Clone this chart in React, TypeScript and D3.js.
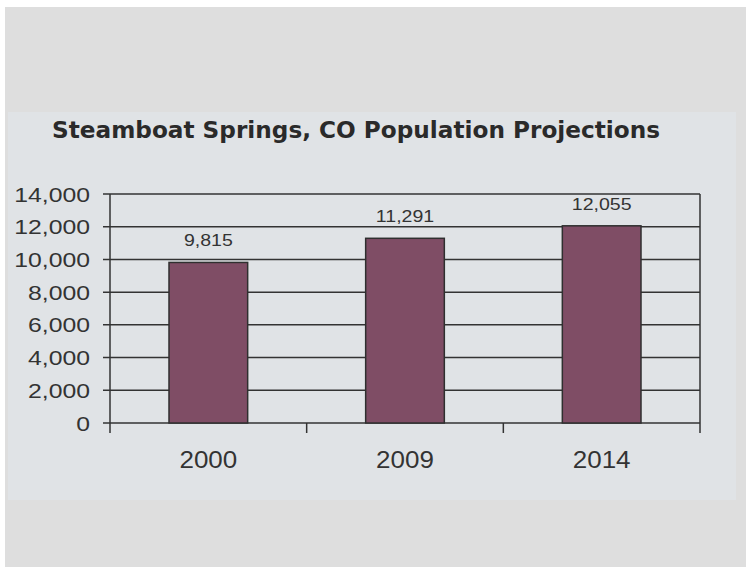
import React from "react";
import * as d3 from "d3";

const categories = ["2000", "2009", "2014"];
const population = [9815, 11291, 12055];
const yTicks = [0, 2000, 4000, 6000, 8000, 10000, 12000, 14000];
const title = "Steamboat Springs, CO Population Projections";

export default function App() {
  const W = 751, H = 567;
  const left = 110, right = 700, top = 194, bottom = 423;
  const y = d3.scaleLinear().domain([0, 14000]).range([bottom, top]);
  const x = d3.scaleBand().domain(categories).range([left, right]).paddingInner(0).paddingOuter(0);
  const barW = x.bandwidth() * 0.4;
  const fmt = d3.format(",");
  const ink = "#333333";
  const font = "'Liberation Sans', Arial, sans-serif";

  return (
    <svg width={W} height={H} style={{ position: "absolute", left: 0, top: 0 }}>
      <rect x={0} y={0} width={W} height={H} fill="#ffffff" />
      <rect x={5} y={7} width={741} height={H - 7} fill="#dedede" />
      <rect x={8} y={112} width={728} height={388} fill="#e0e3e6" />
      <text
        x={52}
        y={138}
        fontFamily="'DejaVu Sans', Verdana, sans-serif"
        fontWeight="bold"
        fontSize={23}
        fill="#2a2a2a"
        textLength={608}
        lengthAdjust="spacingAndGlyphs"
      >
        {title}
      </text>
      {yTicks.map((t) => (
        <g key={t}>
          <line x1={103} x2={right} y1={y(t)} y2={y(t)} stroke={ink} strokeWidth={1.5} />
          <text
            transform={`translate(90,${y(t) + 7.5}) scale(1.18,1)`}
            textAnchor="end"
            fontFamily={font}
            fontSize={21}
            fill="#333"
          >
            {fmt(t)}
          </text>
        </g>
      ))}
      <line x1={left} x2={left} y1={top} y2={bottom + 10} stroke={ink} strokeWidth={1.5} />
      <line x1={right} x2={right} y1={top} y2={bottom + 10} stroke={ink} strokeWidth={1.5} />
      {categories.slice(1).map((c) => (
        <line key={c} x1={x(c)!} x2={x(c)!} y1={bottom} y2={bottom + 10} stroke={ink} strokeWidth={1.5} />
      ))}
      {categories.map((c, i) => {
        const cx = x(c)! + x.bandwidth() / 2;
        return (
          <g key={c}>
            <rect
              x={cx - barW / 2}
              y={y(population[i])}
              width={barW}
              height={bottom - y(population[i])}
              fill="#7f4d65"
              stroke="#2f2f2f"
              strokeWidth={1.5}
            />
            <text
              transform={`translate(${cx},${y(population[i]) - 16}) scale(1.15,1)`}
              textAnchor="middle"
              fontFamily={font}
              fontSize={17}
              fill="#333"
            >
              {fmt(population[i])}
            </text>
            <text
              transform={`translate(${cx},${468}) scale(1.13,1)`}
              textAnchor="middle"
              fontFamily={font}
              fontSize={23}
              fill="#333"
            >
              {c}
            </text>
          </g>
        );
      })}
    </svg>
  );
}
